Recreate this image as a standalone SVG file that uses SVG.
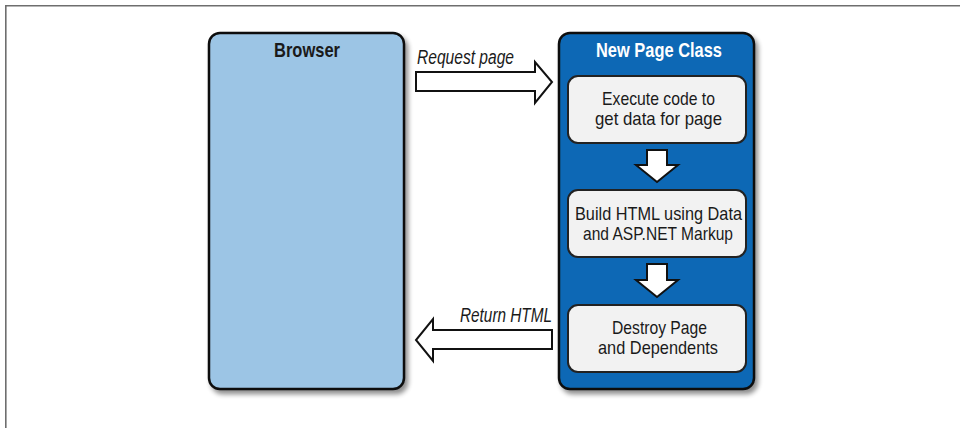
<svg xmlns="http://www.w3.org/2000/svg" width="960" height="428" viewBox="0 0 960 428">
<style>
.t{font-family:"Liberation Sans",Arial,sans-serif;font-size:19px;fill:#1a1a1a}
.b{font-weight:bold;font-size:21px}
.i{font-style:italic;font-size:20px}
.w{fill:#ffffff}
.box{stroke:#111;stroke-width:2.5}
.inner{fill:#f2f2f2;stroke:#222;stroke-width:2}
.arr{fill:#ffffff;stroke:#111;stroke-width:2;stroke-linejoin:miter}
</style>
<defs>
<filter id="sh" x="-10%" y="-10%" width="130%" height="130%">
<feGaussianBlur in="SourceAlpha" stdDeviation="2.5"/>
<feOffset dx="3" dy="4" result="o"/>
<feComponentTransfer><feFuncA type="linear" slope="0.45"/></feComponentTransfer>
<feMerge><feMergeNode/><feMergeNode in="SourceGraphic"/></feMerge>
</filter>
</defs>
<rect width="960" height="428" fill="#ffffff"/>
<g id="frame" stroke="#6e6e6e" stroke-width="1.6" fill="none">
<line x1="5" y1="5.8" x2="960" y2="5.8"/>
<line x1="5.8" y1="5" x2="5.8" y2="428"/>
</g>
<g id="browser">
<rect class="box" x="209" y="33" width="195" height="356" rx="11" fill="#9cc5e5" filter="url(#sh)"/>
<text class="t b" x="307" y="57" text-anchor="middle" textLength="66" lengthAdjust="spacingAndGlyphs">Browser</text>
</g>
<g id="page-class">
<rect class="box" x="559" y="33" width="195" height="356" rx="11" fill="#0868b5" filter="url(#sh)"/>
<text class="t b w" x="659" y="57" text-anchor="middle" textLength="126" lengthAdjust="spacingAndGlyphs">New Page Class</text>
</g>
<g id="execute">
<rect class="inner" x="568" y="76" width="178" height="67" rx="10"/>
<text class="t" x="658.5" y="105" text-anchor="middle" textLength="113" lengthAdjust="spacingAndGlyphs">Execute code to</text>
<text class="t" x="658.5" y="125" text-anchor="middle" textLength="127" lengthAdjust="spacingAndGlyphs">get data for page</text>
</g>
<g id="build">
<rect class="inner" x="568" y="190" width="178" height="67" rx="10"/>
<text class="t" x="658.5" y="220" text-anchor="middle" textLength="167" lengthAdjust="spacingAndGlyphs">Build HTML using Data</text>
<text class="t" x="658" y="240" text-anchor="middle" textLength="150" lengthAdjust="spacingAndGlyphs">and ASP.NET Markup</text>
</g>
<g id="destroy">
<rect class="inner" x="568" y="305" width="178" height="67" rx="10"/>
<text class="t" x="659.5" y="334" text-anchor="middle" textLength="95" lengthAdjust="spacingAndGlyphs">Destroy Page</text>
<text class="t" x="658" y="354" text-anchor="middle" textLength="120" lengthAdjust="spacingAndGlyphs">and Dependents</text>
</g>
<g id="connectors">
<path class="arr" d="M416,72 L535,72 L535,62 L552,82 L535,103 L535,91 L416,91 Z"/>
<text class="t i" x="417" y="64" textLength="97" lengthAdjust="spacingAndGlyphs">Request page</text>
<path class="arr" d="M552,330 L433,330 L433,319 L416,340 L433,361 L433,349 L552,349 Z"/>
<text class="t i" x="552" y="322" text-anchor="end" textLength="92" lengthAdjust="spacingAndGlyphs">Return HTML</text>
<path class="arr" d="M647,150 L667,150 L667,165 L678,165 L657,182 L636,165 L647,165 Z"/>
<path class="arr" d="M647,264 L667,264 L667,280 L678,280 L657,297 L636,280 L647,280 Z"/>
</g>
</svg>
